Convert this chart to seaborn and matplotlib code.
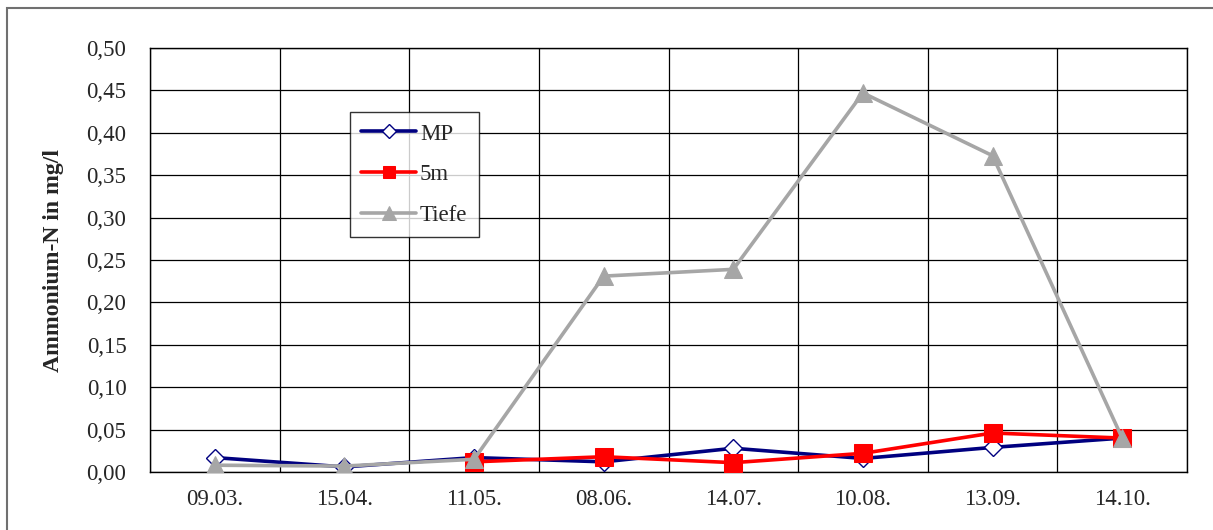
import numpy as np
import pandas as pd
import matplotlib
matplotlib.use('Agg')
import matplotlib.pyplot as plt
import seaborn as sns
from matplotlib.patches import Rectangle
from matplotlib.ticker import FuncFormatter

# data
dates = ['09.03.', '15.04.', '11.05.', '08.06.', '14.07.', '10.08.', '13.09.', '14.10.']
mp = [0.017, 0.006, 0.017, 0.012, 0.028, 0.016, 0.029, 0.040]
m5 = [np.nan, np.nan, 0.012, 0.018, 0.011, 0.022, 0.046, 0.040]
tiefe = [0.008, 0.007, 0.015, 0.231, 0.239, 0.447, 0.373, 0.040]

sns.set_style('white')
plt.rcParams['font.family'] = ['Liberation Serif', 'DejaVu Serif']

x = np.arange(len(dates))
df = pd.DataFrame({'x': x, 'MP': mp, '5m': m5, 'Tiefe': tiefe})

fig = plt.figure(figsize=(12.13, 5.30), dpi=100)
ax = fig.add_axes([150 / 1213, 1 - 472 / 530, 1037 / 1213, 424 / 530])

# outer chart frame (runs off the right and bottom edges)
fig.patches.append(Rectangle((7 / 1213, -10 / 530), 1230 / 1213, 532 / 530, transform=fig.transFigure,
                             fill=False, edgecolor='#707070', lw=1.5))

sns.lineplot(data=df, x='x', y='MP', ax=ax, color='#000080', lw=2.6, marker='D', ms=9,
             mfc='white', mec='#000080', mew=1.0, label='MP', zorder=3)
sns.lineplot(data=df.dropna(subset=['5m']), x='x', y='5m', ax=ax, color='#FF0000', lw=2.6, marker='s',
             ms=13, mfc='#FF0000', mec='#FF0000', label='5m', zorder=4)
sns.lineplot(data=df, x='x', y='Tiefe', ax=ax, color='#A6A6A6', lw=2.6, marker='^', ms=13,
             mfc='#A6A6A6', mec='#A6A6A6', label='Tiefe', zorder=5)

ax.set_xlim(-0.5, len(dates) - 0.5)
ax.set_ylim(0, 0.5)
ax.set_yticks(np.arange(0, 0.501, 0.05))
ax.yaxis.set_major_formatter(FuncFormatter(lambda v, p: f'{v:.2f}'.replace('.', ',')))
ax.set_xticks(np.arange(-0.5, len(dates), 1.0))
ax.set_xticklabels([])
ax.set_xticks(x, minor=True)
ax.set_xticklabels(dates, minor=True)
ax.tick_params(axis='x', which='minor', length=0, pad=12, labelsize=16.5)
ax.tick_params(axis='x', which='major', length=7, width=1, color='black', direction='out')
ax.tick_params(axis='y', length=7, width=1, color='black', direction='out', labelsize=16.5, pad=10)
ax.grid(True, which='major', color='black', lw=0.9)
ax.set_axisbelow(True)
for s in ax.spines.values():
    s.set_color('black')
    s.set_linewidth(1.0)

ax.set_xlabel('')
ax.set_ylabel('Ammonium-N in mg/l', fontsize=17, fontweight='bold', labelpad=16)

leg = ax.legend(loc='upper left', bbox_to_anchor=(200 / 1037, 1 - 64 / 424), frameon=True, fancybox=False,
                edgecolor='black', fontsize=16.5, handlelength=2.4, labelspacing=0.85, borderpad=0.5,
                handletextpad=0.15, borderaxespad=0)
leg.get_frame().set_linewidth(1.0)
for h, size in zip(leg.legend_handles, [7, 9, 10]):
    h.set_markersize(size)

fig.savefig('out.png', dpi=100)
